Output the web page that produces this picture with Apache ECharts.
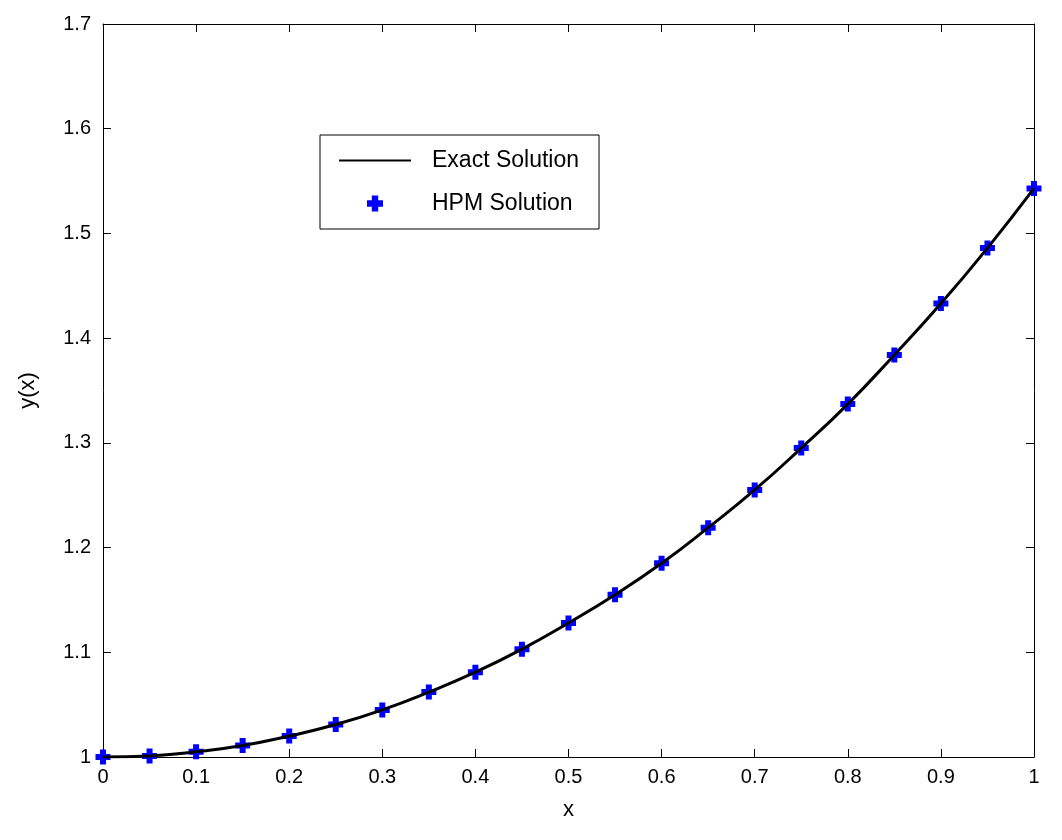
<!DOCTYPE html>
<html>
<head>
<meta charset="utf-8">
<script src="https://cdn.jsdelivr.net/npm/echarts@6/dist/echarts.min.js"></script>
<style>html,body{margin:0;background:#fff}#c{width:1062px;height:840px}</style>
</head>
<body>
<div id="c"></div>
<script>
const xs = [0, 0.05, 0.1, 0.15, 0.2, 0.25, 0.3, 0.35, 0.4, 0.45, 0.5, 0.55, 0.6, 0.65, 0.7, 0.75, 0.8, 0.85, 0.9, 0.95, 1];
const exactY = [1, 1.001, 1.005, 1.011, 1.020, 1.031, 1.045, 1.062, 1.081, 1.103, 1.128, 1.155, 1.185, 1.219, 1.255, 1.295, 1.337, 1.384, 1.433, 1.486, 1.543];
const hpmY = [1, 1.001, 1.005, 1.011, 1.020, 1.031, 1.045, 1.062, 1.081, 1.103, 1.128, 1.155, 1.185, 1.219, 1.255, 1.295, 1.337, 1.384, 1.433, 1.486, 1.543];

const font = 'Liberation Sans, Arial, sans-serif';
const chart = echarts.init(document.getElementById('c'));
const plus = 'path://M3,0h4v3h3v4h-3v3h-4v-3h-3v-4h3z';
const axisBase = {
    axisLine: {show: true, onZero: false, lineStyle: {color: '#000', width: 1}},
    axisTick: {show: true, inside: true, length: 8, lineStyle: {color: '#000'}},
    splitLine: {show: false}
};
chart.setOption({
    animation: false,
    grid: {left: 103, right: 28, top: 24, bottom: 83},
    legend: {
        orient: 'vertical', left: 320, top: 135,
        padding: [14, 20, 14, 18], itemGap: 20, itemWidth: 72, itemHeight: 16,
        borderColor: '#000', borderWidth: 1, backgroundColor: '#fff',
        textStyle: {fontFamily: font, fontSize: 23, color: '#000', padding: [0, 0, 0, 16]},
        data: [
            {name: 'Exact Solution', itemStyle: {opacity: 0}},
            {name: 'HPM Solution'}
        ]
    },
    xAxis: [
        Object.assign({type: 'value', min: 0, max: 1, interval: 0.1, position: 'bottom',
            name: 'x', nameLocation: 'middle', nameGap: 42,
            nameTextStyle: {fontFamily: font, fontSize: 22, color: '#000'},
            axisLabel: {fontFamily: font, fontSize: 20, color: '#000', margin: 10}}, axisBase),
        Object.assign({type: 'value', min: 0, max: 1, interval: 0.1, position: 'top',
            axisLabel: {show: false}}, axisBase)
    ],
    yAxis: [
        Object.assign({type: 'value', min: 1, max: 1.7, interval: 0.1, position: 'left',
            name: 'y(x)', nameLocation: 'middle', nameGap: 64,
            nameTextStyle: {fontFamily: font, fontSize: 22, color: '#000'},
            axisLabel: {fontFamily: font, fontSize: 20, color: '#000', margin: 12,
                formatter: v => (Math.round(v * 10) / 10).toString()}}, axisBase),
        Object.assign({type: 'value', min: 1, max: 1.7, interval: 0.1, position: 'right',
            axisLabel: {show: false}}, axisBase)
    ],
    series: [
        {
            name: 'Exact Solution', type: 'line', smooth: true, showSymbol: false,
            symbol: 'none',
            lineStyle: {color: '#000', width: 3},
            itemStyle: {color: '#000'},
            data: xs.map((x, i) => [x, exactY[i]])
        },
        {
            name: 'HPM Solution', type: 'scatter', symbol: plus, symbolSize: 15,
            itemStyle: {color: '#0000ff', opacity: 1},
            data: xs.map((x, i) => [x, hpmY[i]])
        }
    ]
});
</script>
</body>
</html>
